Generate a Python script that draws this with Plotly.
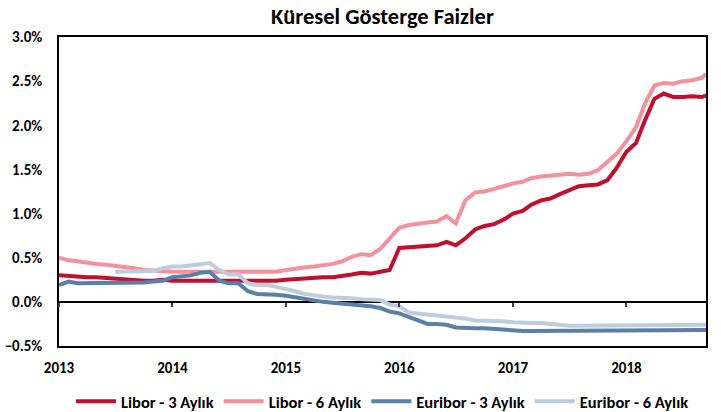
import plotly.graph_objects as go
import pandas as pd

dates = [d.strftime("%Y-%m-%d") for d in pd.date_range("2013-01-01", periods=69, freq="MS")]
dates.append("2018-09-14")

libor_3m = [0.30, 0.29, 0.28, 0.28, 0.28, 0.27, 0.27, 0.26, 0.25, 0.24, 0.24, 0.25,
            0.24, 0.24, 0.23, 0.23, 0.23, 0.23, 0.23, 0.23, 0.23, 0.23, 0.23, 0.24,
            0.25, 0.26, 0.27, 0.28, 0.28, 0.28, 0.29, 0.31, 0.33, 0.32, 0.34, 0.36,
            0.61, 0.62, 0.63, 0.63, 0.64, 0.68, 0.64, 0.72, 0.82, 0.86, 0.88, 0.93,
            1.00, 1.03, 1.10, 1.15, 1.17, 1.22, 1.27, 1.31, 1.32, 1.33, 1.38, 1.52,
            1.70, 1.80, 2.05, 2.30, 2.36, 2.32, 2.32, 2.33, 2.32, 2.34]

libor_6m = [0.50, 0.47, 0.46, 0.44, 0.43, 0.42, 0.41, 0.40, 0.38, 0.36, 0.35, 0.35,
            0.34, 0.34, 0.34, 0.33, 0.33, 0.33, 0.33, 0.33, 0.33, 0.33, 0.33, 0.34,
            0.36, 0.38, 0.39, 0.40, 0.41, 0.43, 0.46, 0.51, 0.54, 0.53, 0.60, 0.72,
            0.84, 0.87, 0.89, 0.90, 0.91, 0.97, 0.89, 1.15, 1.24, 1.25, 1.28, 1.31,
            1.34, 1.36, 1.40, 1.42, 1.43, 1.44, 1.45, 1.44, 1.45, 1.49, 1.59, 1.68,
            1.82, 1.98, 2.24, 2.45, 2.48, 2.47, 2.50, 2.51, 2.54, 2.58]

euribor_3m = [0.19, 0.23, 0.21, 0.21, 0.21, 0.22, 0.22, 0.22, 0.22, 0.22, 0.23, 0.24,
              0.28, 0.29, 0.30, 0.33, 0.34, 0.24, 0.21, 0.21, 0.12, 0.09, 0.09, 0.08,
              0.07, 0.05, 0.03, 0.01, 0.00, -0.01, -0.02, -0.02, -0.03, -0.05, -0.07, -0.11,
              -0.13, -0.17, -0.20, -0.25, -0.25, -0.26, -0.29, -0.30, -0.30, -0.30, -0.31, -0.31,
              -0.33, -0.33, -0.33, -0.33, -0.33, -0.33, -0.33, -0.33, -0.33, -0.33, -0.33, -0.33,
              -0.33, -0.33, -0.33, -0.33, -0.33, -0.32, -0.32, -0.32, -0.32, -0.32]

euribor_6m = [None, None, None, None, None, None, 0.34, 0.34, 0.34, 0.34, 0.35, 0.38,
              0.40, 0.40, 0.41, 0.43, 0.44, 0.36, 0.31, 0.31, 0.21, 0.19, 0.19, 0.17,
              0.15, 0.12, 0.09, 0.07, 0.06, 0.05, 0.05, 0.04, 0.03, 0.02, 0.02, -0.03,
              -0.05, -0.12, -0.13, -0.14, -0.15, -0.17, -0.18, -0.19, -0.21, -0.21, -0.22, -0.22,
              -0.23, -0.24, -0.24, -0.24, -0.25, -0.27, -0.27, -0.27, -0.27, -0.27, -0.27, -0.27,
              -0.27, -0.27, -0.27, -0.27, -0.27, -0.27, -0.26, -0.26, -0.26, -0.26]

series = [
    ("Libor - 3 Aylık", libor_3m, "#C0102E"),
    ("Libor - 6 Aylık", libor_6m, "#F4919C"),
    ("Euribor - 3 Aylık", euribor_3m, "#5A7FA8"),
    ("Euribor - 6 Aylık", euribor_6m, "#BDCDDD"),
]

FONT = "Carlito, Lato, sans-serif"
X_RANGE = ["2013-01-01", "2018-09-14"]

fig = go.Figure()
for name, vals, color in series:
    fig.add_trace(go.Scatter(x=dates, y=vals, name=name, mode="lines",
                             line=dict(color=color, width=4)))

# invisible helper trace for the tick-mark axis at zero
fig.add_trace(go.Scatter(x=dates, y=libor_3m, xaxis="x2", mode="lines",
                         line=dict(width=0), opacity=0, showlegend=False,
                         hoverinfo="skip"))

fig.update_layout(
    width=721, height=412,
    margin=dict(l=59, r=15, t=37, b=66, autoexpand=False),
    paper_bgcolor="white", plot_bgcolor="white",
    title=dict(text="Küresel Gösterge Faizler", x=0.5, xref="paper", xanchor="center",
               y=0.962, yanchor="middle",
               font=dict(family=FONT, size=22.5, color="black", weight="bold")),
    font=dict(family=FONT, size=15, color="black", weight="bold"),
    showlegend=True,
    legend=dict(orientation="h", x=0.5, xanchor="center", y=-0.18, yanchor="middle",
                font=dict(family=FONT, size=16.5, color="black", weight="bold"),
                itemwidth=40, traceorder="normal"),
    xaxis=dict(type="date", range=X_RANGE,
               dtick="M12", tick0="2013-01-01", tickformat="%Y",
               showgrid=False, zeroline=False, showline=True, mirror=True,
               linecolor="black", linewidth=1.5, ticks="",
               ticklabelstandoff=7,
               tickfont=dict(family=FONT, size=15, color="black", weight="bold")),
    xaxis2=dict(type="date", overlaying="x", range=X_RANGE, anchor="free", position=0.5/3.5,
                side="bottom", showgrid=False, zeroline=False, showline=False,
                showticklabels=False, ticks="outside", ticklen=4, tickwidth=1.5,
                tickcolor="#404040", dtick="M12", tick0="2013-01-01"),
    yaxis=dict(range=[-0.5, 3.0], dtick=0.5, tickformat=".1f", ticksuffix="%",
               showgrid=False, zeroline=True, zerolinecolor="black", zerolinewidth=1.5,
               showline=True, mirror=True, linecolor="black", linewidth=1.5,
               ticks="", ticklabelstandoff=12,
               tickfont=dict(family=FONT, size=15, color="black", weight="bold")),
)

fig.write_html("out.html", config={"displayModeBar": False},
               post_script="document.body.style.margin='0';document.body.style.overflow='hidden';")
